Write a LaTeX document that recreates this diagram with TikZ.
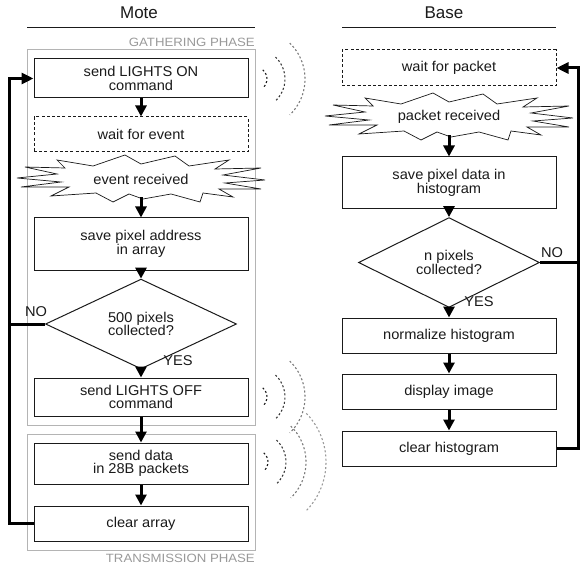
\documentclass[tikz,border=0pt]{standalone}
\usepackage{fontspec}
\setmainfont{Liberation Sans}
\newfontfamily\nodefont{Liberation Sans}[FakeStretch=1.03]
\newfontfamily\phasefont{Liberation Sans}[FakeStretch=1.1]
\usetikzlibrary{shapes.geometric,arrows.meta,calc}
\definecolor{ink}{HTML}{1A1A1A}
\definecolor{phasegray}{HTML}{B4B4B4}
\definecolor{phasetext}{HTML}{999999}
\definecolor{waveA}{HTML}{1A1A1A}
\definecolor{waveB}{HTML}{3A3A3A}
\definecolor{waveC}{HTML}{7A7A7A}
\definecolor{waveD}{HTML}{9A9A9A}
\newcommand{\myburst}[2]{%
  \draw[draw=ink, line width=0.7pt, fill=white, line join=miter, shift={(#1,#2)}]
    (-124,-1) -- (-84,-5) -- (-116,-12) -- (-76,-11) -- (-84,-19) -- (-48,-13)
    -- (-16,-24) -- (0,-15) -- (34,-23) -- (48,-13) -- (88,-19) -- (74,-10)
    -- (120,-11) -- (82,-4) -- (124,1) -- (84,4) -- (120,10) -- (78,10)
    -- (92,18) -- (62,14) -- (59,23) -- (30,15) -- (2,20) -- (-12,15)
    -- (-28,23) -- (-45,14) -- (-90,17) -- (-72,8) -- (-120,8) -- (-80,3) -- cycle;}
\newcommand{\mywaves}[3]{% cx, cy, number of arcs
  \draw[waveA, wavestyle] (#1,#2) ++(-50:12) arc[start angle=-50, end angle=50, radius=12];
  \draw[waveB, wavestyle] (#1,#2) ++(-47:30) arc[start angle=-47, end angle=47, radius=30];
  \draw[waveC, wavestyle] (#1,#2) ++(-46:50) arc[start angle=-46, end angle=46, radius=50];
  \ifnum#3>3
  \draw[waveD, wavestyle] (#1,#2) ++(-44:70) arc[start angle=-44, end angle=44, radius=70];
  \fi}
\begin{document}
\begin{tikzpicture}[x=1pt,y=-1pt,
  txt/.style={font=\nodefont\fontsize{14.2}{13.5}\selectfont, text=ink},
  box/.style={txt, draw=ink, line width=1pt, minimum width=214pt, inner sep=0pt, align=center, fill=white},
  dbox/.style={box, dash pattern=on 3pt off 2.2pt},
  dia/.style={txt, diamond, draw=ink, line width=1pt, inner sep=0pt, align=center, fill=white},
  burstlabel/.style={txt, inner sep=0pt, minimum width=140pt, minimum height=36pt},
  flow/.style={draw=black, line width=3pt, -{Triangle[length=11pt,width=11pt]}},
  loopline/.style={draw=black, line width=3pt},
  phase/.style={draw=phasegray, line width=1pt},
  phaselabel/.style={font=\phasefont\fontsize{12}{13}\selectfont, text=phasetext, inner sep=0pt, anchor=east},
  title/.style={font=\fontsize{17}{19}\selectfont, text=ink, inner sep=0pt},
  wavestyle/.style={line width=1.1pt, dash pattern=on 2pt off 2.2pt}]
\useasboundingbox (0,0) rectangle (581,564);

% titles
\node[title] (tm) at (139,13) {Mote};
\node[title] (tb) at (444,13) {Base};
\draw[ink, line width=0.9pt] (27,27) -- (255,27);
\draw[ink, line width=0.9pt] (342,27) -- (556,27);

% phase frames
\draw[phase] (27,50) rectangle (255,425);
\draw[phase] (27,434) rectangle (255,550);
\node[phaselabel] (gp) at (255,42) {GATHERING PHASE};
\node[phaselabel] (tp) at (255,558) {TRANSMISSION PHASE};

% waves
\mywaves{255}{79}{3}
\mywaves{255}{397}{3}
\mywaves{256}{462}{4}

% Mote column
\node[box, minimum height=39pt] (on) at (141,78.5) {send LIGHTS ON\\command};
\node[dbox, minimum height=35pt] (wev) at (141,134.5) {wait for event};
\myburst{141}{179}
\node[burstlabel] (er) at (141,179) {event received};
\node[box, minimum height=52pt] (spa) at (141,244) {save pixel address\\in array};
\node[dia, minimum width=191pt, minimum height=66pt] (d1) at (141,324) {500 pixels\\collected?};
\node[box, minimum height=38pt] (off) at (141,397) {send LIGHTS OFF\\command};
\node[box, minimum height=41pt] (sd) at (141,463.5) {send data\\in 28B packets};
\node[box, minimum height=35pt] (ca) at (141,523.5) {clear array};
\node[txt, inner sep=0pt] (no1) at (36,312) {NO};
\node[txt, inner sep=0pt] (yes1) at (178,361) {YES};

% Base column
\node[dbox, minimum height=36pt] (wp) at (449,68) {wait for packet};
\myburst{449}{117}
\node[burstlabel] (pr) at (449,117) {packet received};
\node[box, minimum height=52pt] (spd) at (449,183) {save pixel data in\\histogram};
\node[dia, minimum width=181pt, minimum height=67pt] (d2) at (449,262.5) {n pixels\\collected?};
\node[box, minimum height=35pt] (nh) at (449,335.5) {normalize histogram};
\node[box, minimum height=35pt] (di) at (449,391.5) {display image};
\node[box, minimum height=35pt] (ch) at (449,448.5) {clear histogram};
\node[txt, inner sep=0pt] (no2) at (552,253) {NO};
\node[txt, inner sep=0pt] (yes2) at (479,302) {YES};

% Mote flow
\draw[flow] (on.south) -- (wev.north);
\draw[flow] (er.south) -- (spa.north);
\draw[flow] (spa.south) -- (d1.north);
\draw[flow] (d1.south) -- (off.north);
\draw[flow] (off.south) -- (sd.north);
\draw[flow] (sd.south) -- (ca.north);
\draw[loopline, -{Triangle[length=12pt,width=11pt]}] (ca.west) -- ++(-24,0) |- (on.west);
\draw[loopline] (d1.west) -- ++(-36.5,0);

% Base flow
\draw[flow] (pr.south) -- (spd.north);
\draw[flow] (spd.south) -- (d2.north);
\draw[flow] (d2.south) -- (nh.north);
\draw[flow] (nh.south) -- (di.north);
\draw[flow] (di.south) -- (ch.north);
\draw[loopline, -{Triangle[length=12pt,width=11pt]}] (ch.east) -- ++(22,0) |- (wp.east);
\draw[loopline] (d2.east) -- ++(39.5,0);
\end{tikzpicture}
\end{document}
